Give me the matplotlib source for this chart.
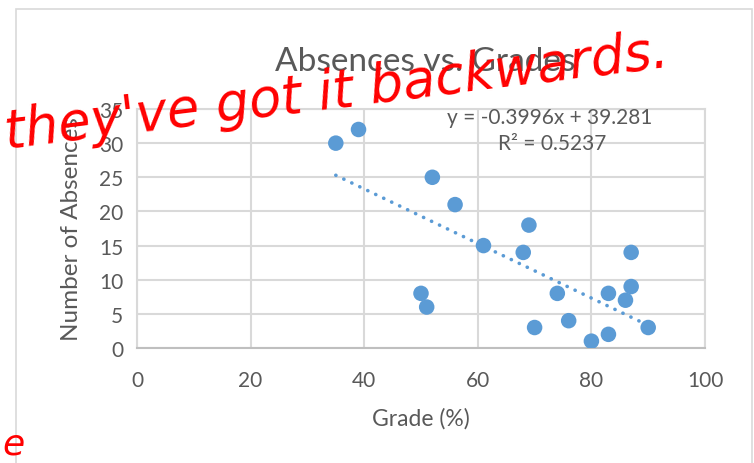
import matplotlib
matplotlib.use("Agg")
import matplotlib.pyplot as plt
import numpy as np
from matplotlib.patches import Rectangle

grade = [35, 39, 52, 56, 61, 69, 68, 50, 51, 70, 74, 76, 80, 83, 83, 86, 87, 87, 90]
absences = [30, 32, 25, 21, 15, 18, 14, 8, 6, 3, 8, 4, 1, 2, 8, 7, 9, 14, 3]
slope = -0.3996
intercept = 39.281
r2 = 0.5237

title = "Absences vs. Grades"
xlabel = "Grade (%)"
ylabel = "Number of Absences"
xticks = [0, 20, 40, 60, 80, 100]
yticks = [0, 5, 10, 15, 20, 25, 30, 35]

plt.rcParams['font.family'] = ['Lato', 'DejaVu Sans']
txt = '#595959'
grid = '#D9D9D9'
blue = '#5B9BD5'

fig = plt.figure(figsize=(7.54, 4.64), dpi=100)
fig.patches.append(Rectangle((16/754, -0.1), (752-16)/754, 1 - 10/464 + 0.1,
                             transform=fig.transFigure, fill=False,
                             edgecolor='#D9D9D9', linewidth=1.2))

ax = fig.add_axes([137/754, 1-349/464, (705-137)/754, (349-110)/464])
ax.set_xlim(0, 100)
ax.set_ylim(0, 35)
ax.set_xticks(xticks)
ax.set_yticks(yticks)
ax.grid(True, color=grid, linewidth=1.5)
ax.set_axisbelow(True)
for s in ax.spines.values():
    s.set_color(grid)
    s.set_linewidth(1.5)
ax.spines['bottom'].set_color('#BFBFBF')
ax.tick_params(length=0, labelsize=15, colors=txt, pad=10)
ax.tick_params(axis='x', pad=16)

xs = np.array([min(grade), max(grade)])
ax.plot(xs, slope * xs + intercept, color=blue, linewidth=2.6,
        linestyle=(0, (0.05, 2.4)), dash_capstyle='round', zorder=2)
ax.scatter(grade, absences, s=125, color=blue, edgecolors='none', zorder=3)

ax.set_xlabel(xlabel, fontsize=16.5, color=txt, labelpad=12)
ax.set_ylabel(ylabel, fontsize=17.5, color=txt, labelpad=12)
fig.text(425/754, 1-62/464, title, ha='center', va='center', fontsize=24, color=txt)
fig.text(550/754, 1-118/464, "y = -0.3996x + 39.281", ha='center', va='center',
         fontsize=15, color=txt)
fig.text(552/754, 1-144/464, "R² = 0.5237", ha='center', va='center',
         fontsize=15, color=txt)

# red handwritten annotation overlay
fig.text(2/754, 1-148/464, "they've got it backwards.", ha='left', va='baseline',
         fontsize=38, color='red', rotation=7, family='DejaVu Sans',
         fontstyle='italic', fontweight='light')
fig.text(2/754, 1-455/464, "e", ha='left', va='baseline', fontsize=26,
         color='red', family='DejaVu Sans', fontstyle='italic')

fig.savefig("out.png", dpi=100)
